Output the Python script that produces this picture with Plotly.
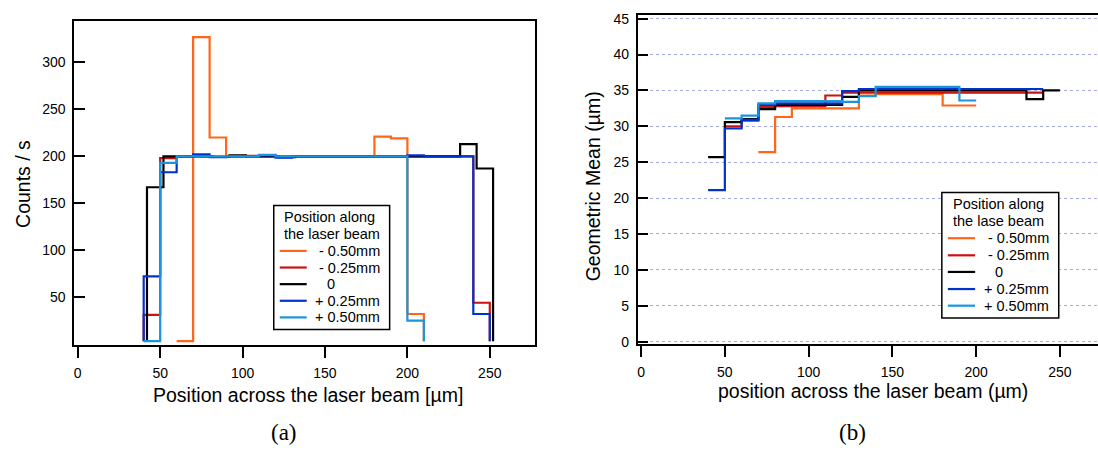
import plotly.graph_objects as go

W, H = 1098, 450
FONT = "Liberation Sans, Arial, sans-serif"
SERIF = "Liberation Serif, Times New Roman, serif"

# Positions along the laser beam and their colours
labels = ["- 0.50mm", "- 0.25mm", "0", "+ 0.25mm", "+ 0.50mm"]
colors = ["#FF6619", "#CC1111", "#000000", "#0033CC", "#1A95DA"]

BIN = 10  # bin width in µm
BASE = 3  # floor level of the count histograms

# (a) count rate per bin; each list starts at the matching *_start position
counts_start = [60, 40, 42, 40, 40]
counts_m050 = [3, 327, 220, 200, 200, 200.5, 200, 200, 200, 200, 200, 200,
               221, 219, 32, 3]
counts_m025 = [31, 198, 200, 200, 199.5, 200, 200.5, 200, 200, 200, 200,
               200, 200, 200, 200, 200, 200, 200, 200, 200, 44, 3]
counts_0 = [167, 200, 200, 200, 199.5, 201, 200, 200, 199, 200, 200, 200,
            200, 200, 200, 200, 200, 200, 200, 213, 187, 3]
counts_p025 = [72, 183, 200, 202, 199, 200, 200, 201, 198.5, 200, 200, 200,
               200, 200, 200, 200, 201, 200, 200, 200, 32, 3]
counts_p050 = [3, 193, 200, 200, 200, 200, 200, 201.5, 200, 200, 200, 200,
               200, 200, 200, 200, 25, 3]

# (b) geometric mean per bin
gm_start = [70, 50, 40, 40, 50]
gm_m050 = [26.4, 31.3, 32.5, 32.5, 32.5, 32.5, 34.3, 34.5, 34.5, 34.5, 34.5,
           32.9, 32.9]
gm_m025 = [30.0, 30.8, 32.7, 32.8, 32.8, 32.8, 34.3, 34.7, 34.7, 34.7, 34.7,
           34.7, 34.7, 34.7, 34.7, 34.7, 34.7, 34.7, 34.7]
gm_0 = [25.7, 30.6, 31.0, 32.4, 33.0, 33.0, 33.0, 33.0, 34.1, 35.0, 35.0,
        35.0, 35.0, 35.0, 35.0, 35.0, 35.0, 35.0, 35.0, 33.8, 35.0]
gm_p025 = [21.1, 29.7, 30.9, 33.0, 33.2, 33.2, 33.2, 33.2, 34.9, 35.2, 35.2,
           35.2, 35.2, 35.2, 35.2, 35.2, 35.2, 35.2, 35.2, 35.2]
gm_p050 = [31.1, 31.5, 33.2, 33.5, 33.5, 33.5, 33.5, 33.4, 34.2, 35.5, 35.5,
           35.5, 35.5, 35.5, 33.6]

counts_all = [counts_m050, counts_m025, counts_0, counts_p025, counts_p050]
gm_all = [gm_m050, gm_m025, gm_0, gm_p025, gm_p050]

count_ticks = [50, 100, 150, 200, 250, 300]
gm_ticks = [0, 5, 10, 15, 20, 25, 30, 35, 40, 45]
x_ticks = [0, 50, 100, 150, 200, 250]


def px(x):
    return x / W


def py(y):
    return 1 - y / H


fig = go.Figure()

# (a) histograms: rise from the floor at the first edge, drop at the last point
for start, vals, col, lab in zip(counts_start, counts_all, colors, labels):
    xs = [start] + [start + BIN * i for i in range(len(vals))]
    ys = [BASE] + vals
    fig.add_trace(go.Scatter(x=xs, y=ys, mode="lines", line_shape="hv",
                             line=dict(color=col, width=2.2), name=lab,
                             xaxis="x", yaxis="y", showlegend=False))

# (b) step traces: the last bin keeps its full width
for start, vals, col, lab in zip(gm_start, gm_all, colors, labels):
    xs = [start + BIN * i for i in range(len(vals))] + [start + BIN * len(vals)]
    ys = vals + [vals[-1]]
    fig.add_trace(go.Scatter(x=xs, y=ys, mode="lines", line_shape="hv",
                             line=dict(color=col, width=2.2), name=lab,
                             xaxis="x2", yaxis="y2", showlegend=False))

tickfont = dict(family=FONT, size=14, color="black")
common_x = dict(showline=True, linecolor="black", linewidth=1.5,
                ticks="outside", ticklen=11, tickwidth=1.5, tickcolor="black",
                tickvals=x_ticks, tickfont=tickfont, showgrid=False,
                zeroline=False, ticklabelstandoff=3)

fig.update_layout(
    width=W, height=H, autosize=False,
    margin=dict(l=0, r=0, t=0, b=0),
    paper_bgcolor="white", plot_bgcolor="white",
    xaxis=dict(domain=[px(73.2), px(534.6)], range=[-2.2, 277.5],
               anchor="y", mirror=True, **common_x),
    yaxis=dict(domain=[py(347.7), py(16)], range=[-1.0, 344.5], anchor="x",
               showline=True, linecolor="black", linewidth=1.5, mirror=True,
               ticks="inside", ticklen=11, tickwidth=1.5, tickcolor="black",
               tickvals=count_ticks, tickfont=tickfont, showgrid=False,
               zeroline=False, ticklabelstandoff=4),
    xaxis2=dict(domain=[px(637.3), 1.0], range=[-2.0, 272.7],
                anchor="y2", mirror=True, **common_x),
    yaxis2=dict(domain=[py(347), py(10.7)], range=[-0.37, 45.45], anchor="x2",
                showline=True, linecolor="black", linewidth=1.5, mirror=False,
                ticks="inside", ticklen=11, tickwidth=1.5, tickcolor="black",
                tickvals=gm_ticks, tickfont=tickfont, showgrid=True,
                gridcolor="rgb(165,170,225)", griddash="dot", gridwidth=1,
                zeroline=False, ticklabelstandoff=4),
)

annotations = []
shapes = []


def text(x, y, s, size=19.5, anchor="center", family=FONT, angle=0):
    annotations.append(dict(x=px(x), y=py(y), xref="paper", yref="paper",
                            text=s, showarrow=False, xanchor=anchor,
                            yanchor="middle", textangle=angle,
                            font=dict(family=family, size=size, color="black")))


# axis titles and panel captions
text(307, 399, "Position across the laser beam [µm]")
text(22, 183, "Counts / s", angle=-90)
text(873, 395, "position across the laser beam (µm)")
text(592, 185, "Geometric Mean (µm)", angle=-90)
text(283, 437, "(a)", size=23, family=SERIF)
text(852, 437, "(b)", size=23, family=SERIF)


def legend(box, title, title_x, title_y, sw_x0, sw_x1, rows_y, txt_right, zero_x):
    x0, y0, x1, y1 = box
    shapes.append(dict(type="rect", xref="paper", yref="paper", layer="above",
                       x0=px(x0), x1=px(x1), y0=py(y1), y1=py(y0),
                       line=dict(color="black", width=1.5), fillcolor="white"))
    for line, ty in zip(title, title_y):
        text(title_x, ty, line, size=14.5, anchor="left")
    for lab, col, ry in zip(labels, colors, rows_y):
        shapes.append(dict(type="line", xref="paper", yref="paper",
                           layer="above", x0=px(sw_x0), x1=px(sw_x1),
                           y0=py(ry), y1=py(ry),
                           line=dict(color=col, width=2.2)))
        if lab == "0":
            text(zero_x, ry, lab, size=14.5)
        else:
            text(txt_right, ry, lab, size=14.5, anchor="right")


legend((273, 205, 389, 332), ["Position along", "the laser beam"], 281.5,
       [217, 234], 279, 306, [251.5, 268.5, 285.5, 302.5, 319.5], 381, 330)
legend((941.7, 191.7, 1058.7, 320), ["Position along", "the lase beam"], 950.5,
       [204, 221], 947.7, 975, [238.5, 256, 273, 290.5, 307.5], 1051, 999)

fig.update_layout(annotations=annotations, shapes=shapes)
fig.write_html("out.html")
